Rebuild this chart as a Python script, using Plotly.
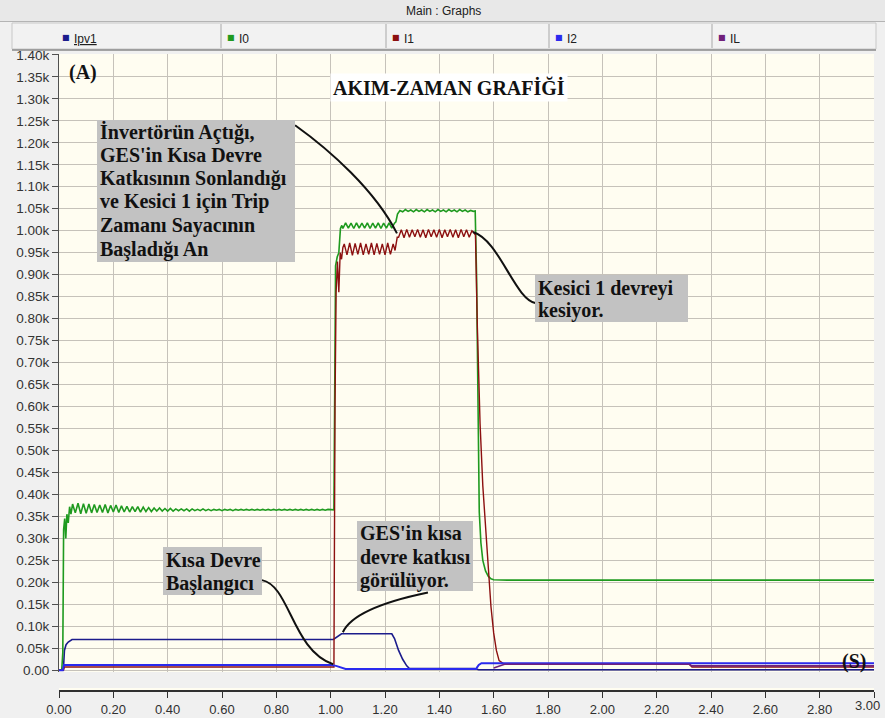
import plotly.graph_objects as go

# ------------------------------------------------------------------ data
ripple_step = 0.01  # sampling step of the typed ripple segments (s)

# Ipv1 (PV current)
ipv1_t = [0.0, 0.016, 0.020, 0.026, 0.034, 0.048, 1.010, 1.020, 1.030, 1.040,
          1.225, 1.235, 1.250, 1.265, 1.280, 1.290, 1.530, 1.545, 3.0]
ipv1_v = [0.0, 0.0, 0.045, 0.058, 0.064, 0.070, 0.070, 0.075, 0.080, 0.083,
          0.083, 0.072, 0.045, 0.025, 0.010, 0.004, 0.004, 0.001, 0.001]

# I0
i0_rise_t = [0.0, 0.010, 0.014, 0.017, 0.021, 0.025, 0.029, 0.034, 0.039, 0.044]
i0_rise_v = [0.0, 0.0, 0.040, 0.320, 0.345, 0.300, 0.355, 0.335, 0.372, 0.355]
i0_pre_ripple = [
    0.378, 0.358, 0.380, 0.356, 0.379, 0.357, 0.378, 0.358, 0.377, 0.359,
    0.376, 0.359, 0.377, 0.358, 0.375, 0.360, 0.376, 0.359, 0.374, 0.360,
    0.373, 0.360, 0.372, 0.361, 0.372, 0.360, 0.371, 0.361, 0.370, 0.361,
    0.369, 0.362, 0.369, 0.362, 0.368, 0.362, 0.368, 0.362, 0.367, 0.363,
    0.367, 0.363, 0.367, 0.362, 0.367, 0.363, 0.366, 0.363, 0.367, 0.363,
    0.366, 0.363, 0.366, 0.364, 0.366, 0.363, 0.366, 0.364, 0.366, 0.363,
    0.366, 0.364, 0.366, 0.364, 0.366, 0.364, 0.366, 0.364, 0.366, 0.364,
    0.366, 0.364, 0.366, 0.364, 0.366, 0.364, 0.366, 0.364, 0.366, 0.364,
    0.366, 0.364, 0.366, 0.364, 0.366, 0.364, 0.366, 0.364, 0.366, 0.364,
    0.366, 0.364, 0.366, 0.364, 0.366, 0.365]
i0_pre_start = 0.05
i0_jump_t = [1.012, 1.018, 1.024, 1.030, 1.036, 1.041]
i0_jump_v = [0.365, 0.920, 0.940, 0.950, 1.005, 1.012]
i0_f1_ripple = [1.005, 1.018, 1.006, 1.017, 1.005, 1.018, 1.006, 1.017, 1.006, 1.018,
                1.005, 1.017, 1.006, 1.018, 1.005, 1.017, 1.006, 1.018, 1.006, 1.017]
i0_f1_start = 1.045
i0_step_t = [1.240, 1.246]
i0_step_v = [1.020, 1.038]
i0_f2_ripple = [1.046, 1.043, 1.048, 1.044, 1.047, 1.043, 1.048, 1.044, 1.047, 1.043,
                1.048, 1.044, 1.047, 1.043, 1.048, 1.044, 1.047, 1.043, 1.048, 1.044,
                1.047, 1.043, 1.048, 1.044, 1.047, 1.043, 1.046, 1.044]
i0_f2_start = 1.255
i0_drop_t = [1.532, 1.537, 1.542, 1.547, 1.553, 1.560, 1.570, 1.580, 1.590, 1.600, 1.650, 3.0]
i0_drop_v = [1.045, 0.900, 0.550, 0.360, 0.290, 0.250, 0.226, 0.214, 0.208, 0.206, 0.205, 0.205]

# I1
i1_pre_t = [0.0, 0.016, 0.020, 1.012, 1.016, 1.020, 1.025, 1.030, 1.035, 1.040, 1.045]
i1_pre_v = [0.0, 0.0, 0.0075, 0.0075, 0.600, 0.860, 0.930, 0.860, 0.950, 0.935, 0.962]
i1_f1_ripple = [0.970, 0.945, 0.972, 0.944, 0.971, 0.946, 0.972, 0.945, 0.970, 0.946,
                0.972, 0.945, 0.971, 0.946, 0.970, 0.945, 0.972, 0.946, 0.970]
i1_f1_start = 1.05
i1_step_t = [1.237, 1.245]
i1_step_v = [0.955, 0.985]
i1_f2_ripple = [0.985, 1.002, 0.984, 1.003, 0.985, 1.002, 0.986, 1.003, 0.985, 1.002,
                0.984, 1.003, 0.986, 1.002, 0.985, 1.003, 0.984, 1.002, 0.986, 1.003,
                0.985, 1.002, 0.984, 1.003, 0.986, 1.002, 0.985, 1.000]
i1_f2_start = 1.25
i1_drop_t = [1.527, 1.533, 1.540, 1.550, 1.560, 1.570, 1.580, 1.590, 1.600, 1.610,
             1.620, 1.640, 2.320, 2.330, 3.0]
i1_drop_v = [0.995, 0.990, 0.780, 0.560, 0.420, 0.320, 0.225, 0.145, 0.085, 0.045,
             0.022, 0.0137, 0.0137, 0.0075, 0.0075]

# I2
i2_t = [0.0, 0.014, 0.018, 1.000, 1.020, 1.040, 1.055, 1.535, 1.545, 1.555, 3.0]
i2_v = [0.0, 0.0, 0.012, 0.012, 0.010, 0.005, 0.003, 0.003, 0.012, 0.016, 0.016]

# IL
il_t = [1.600, 1.640, 2.320, 2.330, 3.0]
il_v = [0.005, 0.0135, 0.0135, 0.010, 0.010]

series_names = ["Ipv1", "I0", "I1", "I2", "IL"]

x_tick_vals = [0.0, 0.2, 0.4, 0.6, 0.8, 1.0, 1.2, 1.4, 1.6, 1.8, 2.0, 2.2, 2.4, 2.6, 2.8, 3.0]
x_tick_text = ["0.00", "0.20", "0.40", "0.60", "0.80", "1.00", "1.20", "1.40",
               "1.60", "1.80", "2.00", "2.20", "2.40", "2.60", "2.80", "3.00"]
y_tick_vals = [0.00, 0.05, 0.10, 0.15, 0.20, 0.25, 0.30, 0.35, 0.40, 0.45, 0.50,
               0.55, 0.60, 0.65, 0.70, 0.75, 0.80, 0.85, 0.90, 0.95, 1.00, 1.05,
               1.10, 1.15, 1.20, 1.25, 1.30, 1.35, 1.40]
y_tick_text = ["0.00", "0.05k", "0.10k", "0.15k", "0.20k", "0.25k", "0.30k", "0.35k",
               "0.40k", "0.45k", "0.50k", "0.55k", "0.60k", "0.65k", "0.70k", "0.75k",
               "0.80k", "0.85k", "0.90k", "0.95k", "1.00k", "1.05k", "1.10k", "1.15k",
               "1.20k", "1.25k", "1.30k", "1.35k", "1.40k"]


def ripple_times(start, values):
    return [round(start + i * ripple_step, 4) for i in range(len(values))]


i0_t = (i0_rise_t + ripple_times(i0_pre_start, i0_pre_ripple) + i0_jump_t
        + ripple_times(i0_f1_start, i0_f1_ripple) + i0_step_t
        + ripple_times(i0_f2_start, i0_f2_ripple) + i0_drop_t)
i0_v = (i0_rise_v + i0_pre_ripple + i0_jump_v + i0_f1_ripple + i0_step_v
        + i0_f2_ripple + i0_drop_v)
i1_t = (i1_pre_t + ripple_times(i1_f1_start, i1_f1_ripple) + i1_step_t
        + ripple_times(i1_f2_start, i1_f2_ripple) + i1_drop_t)
i1_v = i1_pre_v + i1_f1_ripple + i1_step_v + i1_f2_ripple + i1_drop_v

# ------------------------------------------------------------------ styles
colors = {"Ipv1": "#1c1c8c", "I0": "#1f9a1f", "I1": "#8c1010", "I2": "#2a2aee", "IL": "#70207a"}
widths = {"Ipv1": 1.6, "I0": 1.6, "I1": 1.4, "I2": 2.0, "IL": 1.6}
SANS = "Liberation Sans Narrow, Arial Narrow, Liberation Sans, Arial, sans-serif"
SERIF = "Liberation Serif, Times New Roman, serif"

W, H = 885, 718
ML, MR, MT, MB = 59, 11, 54, 14
PW, PH = W - ML - MR, H - MT - MB


def px(x):
    return (x - ML) / PW


def py(y):
    return (H - MB - y) / PH


fig = go.Figure()
data_map = {"Ipv1": (ipv1_t, ipv1_v), "I0": (i0_t, i0_v), "I1": (i1_t, i1_v),
            "I2": (i2_t, i2_v), "IL": (il_t, il_v)}
for name in series_names:
    t, v = data_map[name]
    fig.add_trace(go.Scatter(x=t, y=v, mode="lines", name=name, showlegend=False,
                             line=dict(color=colors[name], width=widths[name])))

# invisible trace for the ruler axis
fig.add_trace(go.Scatter(x=[0, 3], y=[0, 0], xaxis="x2", yaxis="y2", mode="lines",
                         line=dict(width=0), hoverinfo="skip", showlegend=False))

# last ruler label is drawn as an annotation so that it stays inside the window
ruler_text = x_tick_text[:-1] + [""]

fig.update_layout(
    width=W, height=H,
    margin=dict(l=ML, r=MR, t=MT, b=MB, autoexpand=False),
    paper_bgcolor="#F0F0F0",
    plot_bgcolor="#FFFDF1",
    xaxis=dict(range=[0, 3], tickvals=x_tick_vals, showticklabels=False, ticks="",
               showgrid=True, gridcolor="#C6C2BA", gridwidth=1, zeroline=False,
               showline=False, domain=[0, 1], anchor="y", automargin=False),
    yaxis=dict(range=[-0.004, 1.402], tickvals=y_tick_vals, ticktext=y_tick_text,
               ticks="outside", ticklen=6, tickcolor="#505050", tickwidth=1,
               showgrid=True, gridcolor="#C6C2BA", gridwidth=1, zeroline=False,
               showline=True, linecolor="#505050", linewidth=1, automargin=False,
               tickfont=dict(family="Liberation Sans, Arial, sans-serif", size=13.5, color="#333333"),
               domain=[py(672), 1], anchor="x"),
    xaxis2=dict(range=[0, 3], tickvals=x_tick_vals, ticktext=ruler_text,
                ticks="outside", ticklen=6, tickcolor="#303030", tickwidth=1,
                showline=True, linecolor="#303030", linewidth=2, showgrid=False,
                zeroline=False, anchor="y2", domain=[0, 1], automargin=False,
                ticklabeloverflow="allow",
                tickfont=dict(family=SANS, size=13, color="#303030")),
    yaxis2=dict(domain=[py(690), py(688)], visible=False, range=[0, 1], anchor="x2",
                automargin=False),
)

shapes = []
# header bar
shapes.append(dict(type="rect", xref="paper", yref="paper", x0=px(0), x1=px(W),
                   y0=py(21), y1=py(0), fillcolor="#E8E8E8", line=dict(width=0)))
shapes.append(dict(type="line", xref="paper", yref="paper", x0=px(0), x1=px(W),
                   y0=py(21.5), y1=py(21.5), line=dict(color="#B4B4B4", width=1)))
# legend row
shapes.append(dict(type="rect", xref="paper", yref="paper", x0=px(12), x1=px(876),
                   y0=py(49), y1=py(23), fillcolor="#F2F2F2", line=dict(color="#C8C8C8", width=1)))
shapes.append(dict(type="line", xref="paper", yref="paper", x0=px(12), x1=px(876),
                   y0=py(50), y1=py(50), line=dict(color="#8A8A8A", width=1.5)))
for sx in [221, 386, 549, 712]:
    shapes.append(dict(type="line", xref="paper", yref="paper", x0=px(sx), x1=px(sx),
                       y0=py(48), y1=py(24), line=dict(color="#A8A8A8", width=1)))

# connector curves (annotation leaders) in data coordinates
connectors = [
    [(0.869, 1.240), (0.998, 1.183), (1.163, 1.092), (1.244, 0.994)],
    [(1.524, 0.997), (1.623, 0.978), (1.678, 0.842), (1.756, 0.835)],
    [(0.747, 0.205), (0.850, 0.193), (0.858, 0.0455), (1.009, 0.0137)],
    [(1.358, 0.177), (1.218, 0.159), (1.078, 0.132), (1.045, 0.0865)],
]
for c in connectors:
    p = "M {},{} C {},{} {},{} {},{}".format(*[v for pt in c for v in pt])
    shapes.append(dict(type="path", xref="x", yref="y", path=p,
                       line=dict(color="#111111", width=2)))

# gray note boxes: (lines, left, top, right, bottom, line centres)
boxes = [
    (["İnvertörün Açtığı,", "GES'in Kısa Devre", "Katkısının Sonlandığı",
      "ve Kesici 1 için Trip", "Zamanı Sayacının", "Başladığı An"],
     97, 120, 295, 262, [131.5, 155, 178.5, 202, 225.5, 249]),
    (["Kesici 1 devreyi", "kesiyor."], 535, 275, 688, 322, [288, 310]),
    (["Kısa Devre", "Başlangıcı"], 163, 547, 262, 595, [560, 583]),
    (["GES'in kısa", "devre katkısı", "görülüyor."], 357, 521, 473, 591, [533, 556.5, 580]),
]
for lines, x0, y0, x1, y1, centres in boxes:
    shapes.append(dict(type="rect", xref="paper", yref="paper", x0=px(x0), x1=px(x1),
                       y0=py(y1), y1=py(y0), fillcolor="#C2C2C2", line=dict(width=0)))
fig.update_layout(shapes=shapes)

ann = []
ann.append(dict(text="Main : Graphs", xref="paper", yref="paper", x=px(443), y=py(11),
                xanchor="center", yanchor="middle", showarrow=False,
                font=dict(family=SANS, size=12, color="#202020")))
legend_pos = {"Ipv1": 66, "I0": 231, "I1": 396, "I2": 559, "IL": 722}
for name in series_names:
    lx = legend_pos[name]
    ann.append(dict(text="■", xref="paper", yref="paper", x=px(lx), y=py(38),
                    xanchor="center", yanchor="middle", showarrow=False,
                    font=dict(family="DejaVu Sans", size=8, color=colors[name])))
    label = "<span style='text-decoration:underline'>Ipv1</span>" if name == "Ipv1" else name
    ann.append(dict(text=label, xref="paper", yref="paper", x=px(lx + 6), y=py(39),
                    xanchor="left", yanchor="middle", showarrow=False,
                    font=dict(family=SANS, size=12, color="#202020")))

ann.append(dict(text=x_tick_text[-1], xref="paper", yref="paper", x=px(882), y=py(705),
                xanchor="right", yanchor="middle", showarrow=False,
                font=dict(family=SANS, size=13, color="#303030")))

ann.append(dict(text="<b>(A)</b>", xref="paper", yref="paper", x=px(67), y=py(72),
                xanchor="left", yanchor="middle", showarrow=False,
                font=dict(family=SERIF, size=20, color="#111111")))
ann.append(dict(text="<b>AKIM-ZAMAN GRAFİĞİ</b>", xref="paper", yref="paper",
                x=px(449), y=py(87), xanchor="center", yanchor="middle", showarrow=False,
                bgcolor="#FFFFFF", borderpad=2,
                font=dict(family=SERIF, size=20, color="#111111")))

for lines, x0, y0, x1, y1, centres in boxes:
    for line_text, cy in zip(lines, centres):
        ann.append(dict(text="<b>" + line_text + "</b>", xref="paper", yref="paper",
                        x=px(x0 + 1), y=py(cy), xanchor="left", yanchor="middle",
                        showarrow=False,
                        font=dict(family=SERIF, size=20, color="#111111")))

ann.append(dict(text="<b>(S)</b>", xref="paper", yref="paper", x=px(854), y=py(661),
                xanchor="center", yanchor="middle", showarrow=False,
                font=dict(family=SERIF, size=20, color="#111111")))
fig.update_layout(annotations=ann)

fig.write_html("out.html", config={"displayModeBar": False},
               post_script="document.body.style.margin='0';document.body.style.overflow='hidden';")
